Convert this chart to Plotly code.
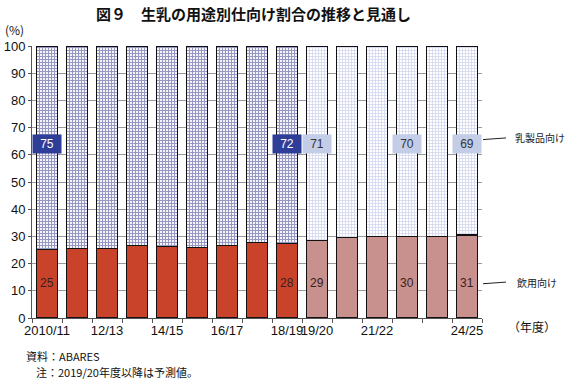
import plotly.graph_objects as go

years = ["2010/11", "11/12", "12/13", "13/14", "14/15", "15/16", "16/17", "17/18",
         "18/19", "19/20", "20/21", "21/22", "22/23", "23/24", "24/25"]
tick_labels = ["2010/11", "", "12/13", "", "14/15", "", "16/17", "",
               "18/19", "19/20", "", "21/22", "", "", "24/25"]
drinking = [25.1, 25.5, 25.5, 26.7, 26.3, 25.9, 26.7, 27.8, 27.4,
            28.5, 29.6, 30.1, 30.1, 30.1, 30.5]
dairy = [round(100 - v, 1) for v in drinking]
n_actual = 9  # 2010/11 - 18/19 actual, 19/20 onward forecast

drink_labels = {"2010/11": "25", "18/19": "28", "19/20": "29", "22/23": "30", "24/25": "31"}
dairy_labels = {"2010/11": "75", "18/19": "72", "19/20": "71", "22/23": "70", "24/25": "69"}

FONT = "Noto Sans CJK JP, Noto Sans, sans-serif"
NUMFONT = "Liberation Sans, Arial, sans-serif"
W, H = 570, 380
L, R, T, B = 32, 88, 46, 62
PW, PH = W - L - R, H - T - B


def px(x):
    return (x - L) / PW


def py(y):
    return (H - B - y) / PH


act_x, fc_x = years[:n_actual], years[n_actual:]
fig = go.Figure()
fig.add_bar(x=act_x, y=drinking[:n_actual], width=0.7, name="飲用向け",
            marker=dict(color="#c9432b", line=dict(color="#111111", width=1.2)))
fig.add_bar(x=fc_x, y=drinking[n_actual:], width=0.7, name="飲用向け(予測)",
            marker=dict(color="#c9918d", line=dict(color="#111111", width=1.2)))
fig.add_bar(x=act_x, y=dairy[:n_actual], width=0.7, name="乳製品向け",
            marker=dict(color="white", line=dict(color="#111111", width=1.2),
                        pattern=dict(shape="+", fgcolor="#2f3088", bgcolor="white",
                                     size=3, solidity=0.65)))
fig.add_bar(x=fc_x, y=dairy[n_actual:], width=0.7, name="乳製品向け(予測)",
            marker=dict(color="white", line=dict(color="#111111", width=1.2),
                        pattern=dict(shape="+", fgcolor="#a3aedb", bgcolor="white",
                                     size=3, solidity=0.45)))

for i, yr in enumerate(years):
    if yr in dairy_labels:
        actual = i < n_actual
        fig.add_annotation(x=yr, y=63.8, xref="x", yref="y", text=dairy_labels[yr],
                           showarrow=False, width=26, height=16, borderpad=1,
                           bgcolor="#2e3d98" if actual else "#c3cde8",
                           font=dict(size=12, color="white" if actual else "#333333",
                                     family=NUMFONT))
    if yr in drink_labels:
        fig.add_annotation(x=yr, y=13, xref="x", yref="y", text=drink_labels[yr],
                           showarrow=False, font=dict(size=12, color="#3a2020", family=NUMFONT))

# series labels at right with leader lines
fig.add_annotation(x=px(513), y=66.5, xref="paper", yref="y", xanchor="left",
                   text="乳製品向け", showarrow=False,
                   font=dict(size=10, color="#222222", family=FONT))
fig.add_annotation(x=px(515), y=13, xref="paper", yref="y", xanchor="left",
                   text="飲用向け", showarrow=False,
                   font=dict(size=10, color="#222222", family=FONT))
fig.add_shape(type="line", xref="paper", yref="y", x0=px(483), x1=px(506), y0=65.6, y1=66.2,
              line=dict(color="#222222", width=1))
fig.add_shape(type="line", xref="paper", yref="y", x0=px(483), x1=px(506), y0=12.6, y1=13.2,
              line=dict(color="#222222", width=1))

# title, units, notes
for x0, y0, t, s, anc in [
    (253, 14, "<b>図９　生乳の用途別仕向け割合の推移と見通し</b>", 15, "center"),
    (3, 30, "(%)", 12, "left"),
    (506, 326, "（年度）", 12, "left"),
    (24, 356, "資料：ABARES", 11, "left"),
    (34, 372, "注：2019/20年度以降は予測値。", 11, "left"),
]:
    fig.add_annotation(x=px(x0), y=py(y0), xref="paper", yref="paper", text=t,
                       showarrow=False, xanchor=anc, yanchor="middle",
                       font=dict(size=s, color="#111111", family=FONT))

fig.update_layout(
    width=W, height=H, margin=dict(l=L, r=R, t=T, b=B),
    paper_bgcolor="white", plot_bgcolor="white", barmode="stack", showlegend=False,
    bargap=0.3, font=dict(family=FONT, size=12, color="#111111"),
)
fig.update_xaxes(type="category", categoryorder="array", categoryarray=years,
                 tickvals=years, ticktext=tick_labels, tickson="boundaries",
                 ticks="outside", ticklen=4, tickcolor="#555555", tickangle=0,
                 showline=True, linecolor="#555555", linewidth=1, automargin=False,
                 tickfont=dict(size=13, color="#111111", family=NUMFONT), showgrid=False,
                 range=[-0.5, 14.5])
fig.update_yaxes(range=[0, 100], dtick=10, showgrid=True, gridcolor="#9a9a9a", gridwidth=1,
                 showline=True, linecolor="#555555", linewidth=1, ticks="outside", ticklen=3,
                 tickcolor="#555555", tickfont=dict(size=13, color="#111111", family=NUMFONT),
                 zeroline=False, automargin=False)
fig.write_html("out.html", config={"displayModeBar": False},
               post_script="document.body.style.margin='0';document.body.style.overflow='hidden';")
